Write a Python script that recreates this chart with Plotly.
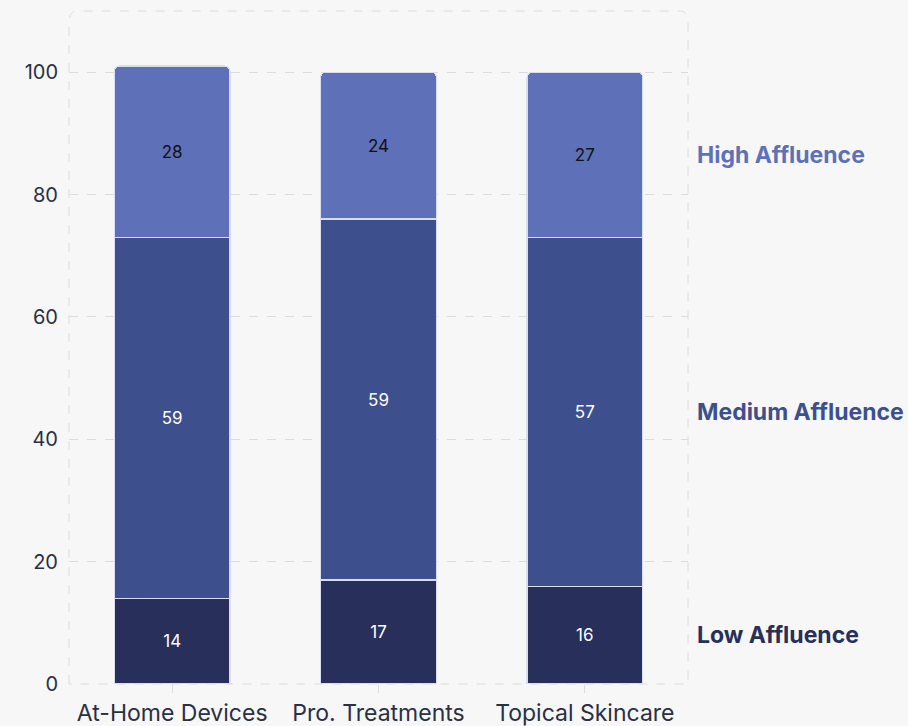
import plotly.graph_objects as go

categories = ["At-Home Devices", "Pro. Treatments", "Topical Skincare"]
low = [14, 17, 16]
medium = [59, 59, 57]
high = [28, 24, 27]

series = [
    ("Low Affluence", low, "#272f5a", "#ffffff"),
    ("Medium Affluence", medium, "#3d4f8c", "#ffffff"),
    ("High Affluence", high, "#5e70b8", "#111111"),
]

FONT = "Inter, Roboto, sans-serif"
BG = "#f7f7f7"
GRID = "#dcdcdc"

fig = go.Figure()
for name, vals, color, tcolor in series:
    fig.add_trace(go.Bar(
        x=categories, y=vals, name=name,
        marker=dict(color=color, line=dict(color="#d9ddef", width=1.2)),
        text=[str(v) for v in vals], textposition="inside",
        insidetextanchor="middle", textangle=0,
        textfont=dict(family=FONT, size=17, color=tcolor),
        width=0.56, showlegend=False, hoverinfo="skip",
    ))

# series labels beside the last bar, centred on each segment
base = 0
for name, vals, color, _ in series:
    mid = base + vals[-1] / 2
    base += vals[-1]
    fig.add_annotation(
        x=1, xref="paper", y=mid, yref="y", text=f"<b>{name}</b>",
        showarrow=False, xanchor="left", xshift=7,
        font=dict(family=FONT, size=23, color=color),
    )

# dashed rounded frame around the plotting area
r = 0.012
fig.add_shape(
    type="path", xref="paper", yref="paper",
    path=(f"M 0,0 L 0,{1 - r * 1.6} Q 0,1 {r},1 L {1 - r},1 "
          f"Q 1,1 1,{1 - r * 1.6} L 1,0 Z"),
    line=dict(color=GRID, width=1, dash="dash"), layer="below",
)

fig.update_layout(
    barmode="stack", barcornerradius=5,
    width=908, height=726,
    margin=dict(l=69, r=220, t=11, b=42),
    paper_bgcolor=BG, plot_bgcolor=BG,
    font=dict(family=FONT, color="#2a2f45"),
)
fig.update_xaxes(
    range=[-0.5, 2.5], showgrid=False, zeroline=False, automargin=False,
    ticks="outside", ticklen=8, tickcolor=GRID, tickwidth=1,
    tickfont=dict(family=FONT, size=23, color="#2a2f45"),
)
fig.update_yaxes(
    range=[0, 110], tickvals=[0, 20, 40, 60, 80, 100], automargin=False,
    showgrid=True, gridcolor=GRID, griddash="dash", gridwidth=1,
    zeroline=False, ticks="", ticklabelstandoff=10,
    tickfont=dict(family=FONT, size=20, color="#2a2f45"),
)

fig.write_html("out.html")
